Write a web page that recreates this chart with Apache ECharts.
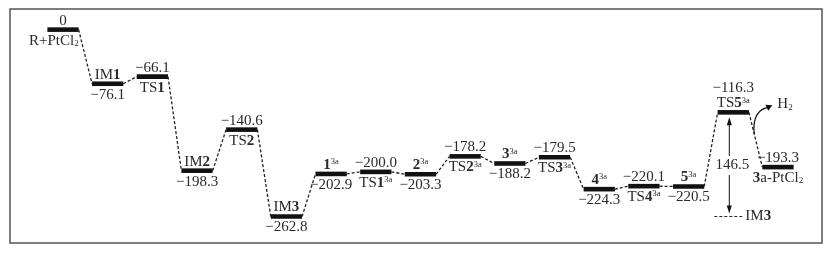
<!DOCTYPE html>
<html><head><meta charset="utf-8">
<script src="https://cdn.jsdelivr.net/npm/echarts/dist/echarts.min.js"></script>
<style>html,body{margin:0;padding:0;background:#fff}#c{width:836px;height:253px}</style>
</head><body><div id="c"></div>
<script>
// ---- data ----
const species = ['R+PtCl{sub|2}', 'IM{b|1}', 'TS{b|1}', 'IM{b|2}', 'TS{b|2}', 'IM{b|3}',
  '{b|1}{sup|3a}', 'TS{b|1}{sup|3a}', '{b|2}{sup|3a}', 'TS{b|2}{sup|3a}', '{b|3}{sup|3a}',
  'TS{b|3}{sup|3a}', '{b|4}{sup|3a}', 'TS{b|4}{sup|3a}', '{b|5}{sup|3a}', 'TS{b|5}{sup|3a}',
  '{b|3}a-PtCl{sub|2}'];
const energies = [0, -76.1, -66.1, -198.3, -140.6, -262.8, -202.9, -200.0, -203.3, -178.2,
  -188.2, -179.5, -224.3, -220.1, -220.5, -116.3, -193.3];
const barrierFrom = 5;      // IM3
const barrierTo = 15;       // TS5^3a
const barrierValue = 146.5;
const releasedLabel = 'H{sub|2}';
const refLabel = 'IM{b|3}';

// ---- layout (not data) ----
const nameSide = ['below','above','below','above','below','above','above','below','above',
  'below','above','below','above','below','above','stack','below'];
const nameAlign = ['right','center','center','center','center','center','center','center','center',
  'center','center','center','center','center','center','center','center'];

const HALF = 0.35;
const FONT = 'Liberation Serif';
const FS = 15;
const INK = '#2a2a2a';
const rich = {
  b: {fontFamily: FONT, fontSize: FS, fontWeight: 'bold', fill: INK},
  sup: {fontFamily: FONT, fontSize: 8.5, fill: INK, verticalAlign: 'top'},
  sub: {fontFamily: FONT, fontSize: 9, fill: INK, verticalAlign: 'bottom'}
};
function fmt(v) { return v === 0 ? '0' : '\u2212' + Math.abs(v).toFixed(1); }
function txt(text, x, y, align, vAlign, extra) {
  return Object.assign({type: 'text', style: {text: text, x: x, y: y, align: align, verticalAlign: vAlign,
    fontFamily: FONT, fontSize: FS, fill: INK, rich: rich}}, extra || {});
}

function renderLevel(params, api) {
  const i = api.value(0), v = api.value(1);
  const p0 = api.coord([i - HALF, v]), p1 = api.coord([i + HALF, v]);
  const cx = (p0[0] + p1[0]) / 2, y = p0[1];
  const ch = [{type: 'rect', shape: {x: p0[0], y: y - 2.3, width: p1[0] - p0[0], height: 4.6}, style: {fill: '#111'}}];
  if (i < energies.length - 1) {
    const q = api.coord([i + 1 - HALF, energies[i + 1]]);
    ch.push({type: 'line', shape: {x1: p1[0], y1: y, x2: q[0], y2: q[1]},
      style: {stroke: '#222', lineWidth: 1.3, lineDash: [3, 2]}});
  }
  const side = nameSide[i];
  const ax = nameAlign[i] === 'right' ? p1[0] : cx;
  const aboveY = y - 1.5, belowY = y + 3.5;
  if (side === 'above') {
    ch.push(txt(species[i], ax, aboveY, nameAlign[i], 'bottom'));
    ch.push(txt(fmt(v), cx, belowY, 'center', 'top'));
  } else if (side === 'below') {
    ch.push(txt(species[i], ax, belowY, nameAlign[i], 'top'));
    ch.push(txt(fmt(v), cx, aboveY, 'center', 'bottom'));
  } else {
    ch.push(txt(species[i], cx, aboveY, 'center', 'bottom'));
    ch.push(txt(fmt(v), cx, aboveY - 15, 'center', 'bottom'));
  }
  return {type: 'group', children: ch};
}

function arrowHead(x, y, dir) { // dir: 1 tip pointing down at (x,y), -1 tip pointing up
  return {type: 'polygon', shape: {points: [[x, y], [x - 2.5, y - dir * 8], [x + 2.5, y - dir * 8]]}, style: {fill: '#111'}};
}

function renderNotes(params, api) {
  const top = api.coord([barrierTo, energies[barrierTo]]);
  const bot = api.coord([barrierTo, energies[barrierFrom]]);
  const ax = top[0] - 4;
  const y1 = top[1] + 5, y2 = bot[1] - 3;
  const ch = [];
  ch.push({type: 'line', shape: {x1: ax, y1: y1 + 4, x2: ax, y2: y2 - 4}, style: {stroke: '#111', lineWidth: 1}});
  ch.push(arrowHead(ax, y1, -1));
  ch.push(arrowHead(ax, y2, 1));
  const lab = txt(barrierValue.toFixed(1), ax + 3, (y1 + y2) / 2, 'center', 'middle', {z2: 10});
  lab.style.backgroundColor = '#fff';
  lab.style.padding = [2, 1];
  ch.push(lab);
  // reference dashed line at IM3 level
  ch.push({type: 'line', shape: {x1: ax - 15, y1: bot[1], x2: ax + 14, y2: bot[1]},
    style: {stroke: '#222', lineWidth: 1, lineDash: [3, 2]}});
  ch.push(txt(refLabel, ax + 16, bot[1], 'left', 'middle'));
  // H2 release curve
  const r = api.coord([barrierTo + HALF, energies[barrierTo]]);
  const n = api.coord([barrierTo + 1 - HALF, energies[barrierTo + 1]]);
  const sx = r[0] + (n[0] - r[0]) * 0.4, sy = r[1] + (n[1] - r[1]) * 0.4;
  const ex = sx + 15, ey = top[1] - 5;
  ch.push({type: 'bezierCurve', shape: {x1: sx, y1: sy, cpx1: sx - 2, cpy1: ey + 10, cpx2: sx + 4, cpy2: ey + 1, x2: ex, y2: ey},
    style: {stroke: '#111', lineWidth: 1.2, fill: null}});
  ch.push({type: 'polygon', shape: {points: [[ex + 3, ey - 2], [ex - 4, ey - 2.5], [ex - 1, ey + 3.5]]}, style: {fill: '#111'}});
  ch.push(txt(releasedLabel, ex + 8, ey - 3, 'left', 'middle'));
  return {type: 'group', children: ch};
}

const chart = echarts.init(document.getElementById('c'));
chart.setOption({
  animation: false,
  backgroundColor: '#fff',
  grid: {left: 10, right: 14, top: 9, bottom: 10, show: true, borderColor: '#555', borderWidth: 1.5, backgroundColor: '#fff'},
  xAxis: {type: 'value', min: -1.186, max: 16.985, show: false},
  yAxis: {type: 'value', min: -300, max: 29, show: false},
  series: [
    {type: 'custom', renderItem: renderLevel, data: energies.map((v, i) => [i, v]), clip: false},
    {type: 'custom', renderItem: renderNotes, data: [[barrierTo, energies[barrierTo]]], clip: false}
  ]
});
</script></body></html>
